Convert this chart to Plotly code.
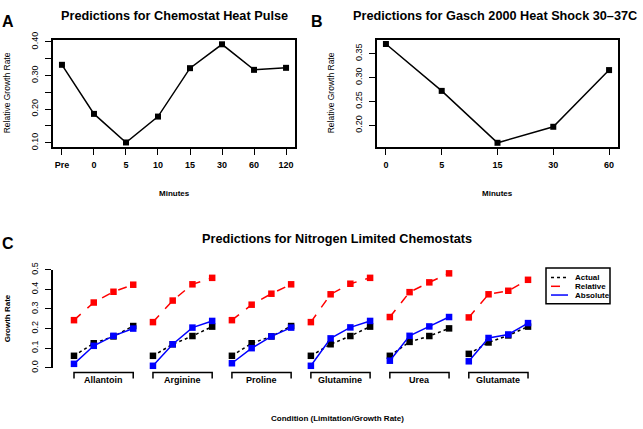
import plotly.graph_objects as go

W, H = 643, 429
FONT = "Liberation Sans, Arial, sans-serif"

# Panel A: chemostat heat pulse
pulse_times = ["Pre", "0", "5", "10", "15", "30", "60", "120"]
pulse_rate = [0.332, 0.186, 0.101, 0.178, 0.322, 0.393, 0.317, 0.323]

# Panel B: Gasch 2000 heat shock
shock_times = ["0", "5", "15", "30", "60"]
shock_rate = [0.370, 0.272, 0.1635, 0.197, 0.3155]

# Panel C: nitrogen limited chemostats (4 dilution rates per source)
sources = ["Allantoin", "Arginine", "Proline", "Glutamine", "Urea", "Glutamate"]
actual = [
    [0.061, 0.125, 0.160, 0.213],
    [0.061, 0.120, 0.162, 0.210],
    [0.061, 0.125, 0.160, 0.213],
    [0.061, 0.120, 0.162, 0.210],
    [0.061, 0.132, 0.162, 0.201],
    [0.071, 0.129, 0.165, 0.210],
]
relative = [
    [0.243, 0.333, 0.388, 0.424],
    [0.233, 0.343, 0.426, 0.459],
    [0.243, 0.322, 0.378, 0.426],
    [0.233, 0.375, 0.429, 0.459],
    [0.259, 0.386, 0.436, 0.482],
    [0.257, 0.375, 0.393, 0.449],
]
absolute = [
    [0.020, 0.112, 0.163, 0.200],
    [0.010, 0.120, 0.205, 0.239],
    [0.023, 0.100, 0.160, 0.205],
    [0.010, 0.150, 0.206, 0.239],
    [0.036, 0.163, 0.211, 0.259],
    [0.033, 0.152, 0.170, 0.228],
]

series = [
    ("Actual", actual, "black", "dot"),
    ("Relative", relative, "red", "dash"),
    ("Absolute", absolute, "blue", "solid"),
]


def px(x0, x1):
    return [x0 / W, x1 / W]


def py(top, bottom):
    return [1 - bottom / H, 1 - top / H]


fig = go.Figure()

# A and B
fig.add_trace(go.Scatter(
    x=pulse_times, y=pulse_rate, xaxis="x", yaxis="y", mode="lines+markers",
    line=dict(color="black", width=1.5),
    marker=dict(symbol="square", size=6, color="black"),
    showlegend=False, cliponaxis=False,
))
fig.add_trace(go.Scatter(
    x=shock_times, y=shock_rate, xaxis="x2", yaxis="y2", mode="lines+markers",
    line=dict(color="black", width=1.5),
    marker=dict(symbol="square", size=6, color="black"),
    showlegend=False, cliponaxis=False,
))

# C
for gi, src in enumerate(sources):
    xs = [gi * 4 + j + 1 for j in range(4)]
    for name, vals, color, dash in series:
        fig.add_trace(go.Scatter(
            x=xs, y=vals[gi], xaxis="x3", yaxis="y3", mode="lines+markers",
            line=dict(color=color, width=1.5, dash=dash),
            marker=dict(symbol="square", size=6.5, color=color),
            showlegend=False, cliponaxis=False,
        ))
    # bracket axis under each group
    fig.add_shape(
        type="path", xref="x3", yref="paper",
        path=f"M {xs[0]},{1-382/H} L {xs[0]},{1-376/H} L {xs[-1]},{1-376/H} L {xs[-1]},{1-382/H}",
        line=dict(color="black", width=1.5),
    )
    fig.add_annotation(
        x=(xs[0] + xs[-1]) / 2, y=1 - 384 / H, xref="x3", yref="paper",
        text=f"<b>{src}</b>", showarrow=False, font=dict(size=9, color="black"),
        yanchor="middle",
    )

# legend box, drawn like R's legend()
fig.add_shape(type="rect", xref="paper", yref="paper",
              x0=546 / W, x1=610 / W, y0=1 - 305 / H, y1=1 - 268 / H,
              line=dict(color="black", width=1.5), fillcolor="white")
for i, (name, vals, color, dash) in enumerate(series):
    ry = 1 - (278 + 9 * i) / H
    fig.add_shape(type="line", xref="paper", yref="paper",
                  x0=551 / W, x1=568 / W, y0=ry, y1=ry,
                  line=dict(color=color, width=1.5, dash=dash))
    fig.add_annotation(x=573 / W, y=ry, xref="paper", yref="paper",
                       text=f"<b>{name}</b>", showarrow=False,
                       font=dict(size=8, color="black"),
                       xanchor="left", yanchor="middle")

box_axis = dict(showline=True, mirror=True, linecolor="black", linewidth=1.5,
                ticks="outside", tickcolor="black", tickwidth=1, showgrid=False,
                zeroline=False)

fig.update_layout(
    width=W, height=H, autosize=False,
    margin=dict(l=0, r=0, t=0, b=0),
    paper_bgcolor="white", plot_bgcolor="white",
    font=dict(family=FONT, color="black"),
    showlegend=False,
    xaxis=dict(domain=px(53, 295), type="category", range=[-0.28, 7.28], anchor="y",
               ticklen=7, tickfont=dict(size=9, weight="bold"), ticklabelstandoff=2, **box_axis),
    yaxis=dict(domain=py(33, 143), range=[0.0885, 0.4058], anchor="x",
               tickvals=[0.10, 0.15, 0.20, 0.25, 0.30, 0.35, 0.40],
               ticktext=["0.10", "", "0.20", "", "0.30", "", "0.40"],
               tickangle=-90, ticklen=6, tickfont=dict(size=9), ticklabelstandoff=4, **box_axis),
    xaxis2=dict(domain=px(377, 618), type="category", range=[-0.16, 4.16], anchor="y2",
                ticklen=7, tickfont=dict(size=9, weight="bold"), ticklabelstandoff=2, **box_axis),
    yaxis2=dict(domain=py(33, 143), range=[0.1554, 0.3784], anchor="x2",
                tickvals=[0.20, 0.25, 0.30, 0.35],
                ticktext=["0.20", "0.25", "0.30", "0.35"],
                tickangle=-90, ticklen=6, tickfont=dict(size=9), ticklabelstandoff=4, **box_axis),
    xaxis3=dict(domain=px(53, 621), range=[-0.064, 28.71], anchor="y3", visible=False),
    yaxis3=dict(domain=py(270, 371), range=[0, 0.5], anchor="x3",
                showline=True, linecolor="black", linewidth=1.5, ticks="outside",
                tickcolor="black", tickwidth=1, ticklen=6, showgrid=False, zeroline=False,
                tickvals=[0, 0.1, 0.2, 0.3, 0.4, 0.5],
                ticktext=["0.0", "0.1", "0.2", "0.3", "0.4", "0.5"],
                tickangle=-90, tickfont=dict(size=9), ticklabelstandoff=4),
)

texts = [
    ("<b>Predictions for Chemostat Heat Pulse</b>", 174, 8, 12.7, 0),
    ("<b>Predictions for Gasch 2000 Heat Shock 30\u201337C</b>", 495, 8, 12.7, 0),
    ("<b>Predictions for Nitrogen Limited Chemostats</b>", 337, 238, 12.7, 0),
    ("<b>A</b>", 8, 14, 16, 0),
    ("<b>B</b>", 317, 14, 16, 0),
    ("<b>C</b>", 8, 243, 16, 0),
    ("<b>Minutes</b>", 174, 191, 8, 0),
    ("<b>Minutes</b>", 497, 191, 8, 0),
    ("<b>Condition (Limitation/Growth Rate)</b>", 337, 423, 8, 0),
    ("Relative Growth Rate", 7, 88, 8.5, -90),
    ("Relative Growth Rate", 331, 88, 8.5, -90),
    ("<b>Growth Rate</b>", 7, 320, 8, -90),
]
for t, x, y, s, ang in texts:
    fig.add_annotation(x=x / W, y=1 - y / H, xref="paper", yref="paper", text=t,
                       showarrow=False, font=dict(size=s, color="black"),
                       xanchor="center", yanchor="middle", textangle=ang)

fig.write_html("out.html", config={"displayModeBar": False},
               post_script="document.body.style.margin='0';")
